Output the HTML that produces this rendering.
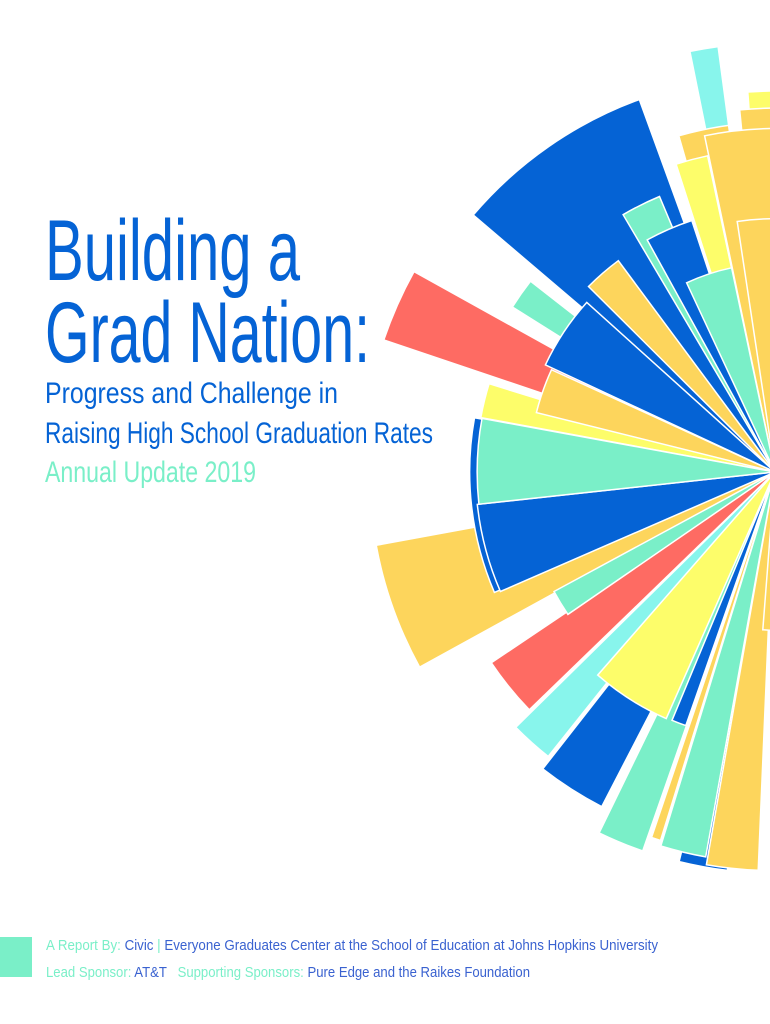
<!DOCTYPE html>
<html><head><meta charset="utf-8"><style>
html,body{margin:0;padding:0;background:#fff;}
svg{display:block;}
text{font-family:"Liberation Sans Narrow","Liberation Sans",sans-serif;}
</style></head><body>
<svg id="s" width="770" height="1024" viewBox="0 0 770 1024" xmlns="http://www.w3.org/2000/svg">
<g id="burst"></g>
<text x="45" y="280" font-size="86" fill="#0563d5" textLength="255" lengthAdjust="spacingAndGlyphs">Building a</text>
<text x="45" y="362" font-size="86" fill="#0563d5" textLength="325" lengthAdjust="spacingAndGlyphs">Grad Nation:</text>
<text x="45" y="403" font-size="30" fill="#0563d5" textLength="293" lengthAdjust="spacingAndGlyphs">Progress and Challenge in</text>
<text x="45" y="443" font-size="30" fill="#0563d5" textLength="388" lengthAdjust="spacingAndGlyphs">Raising High School Graduation Rates</text>
<text x="45" y="482" font-size="30" fill="#7aefc8" textLength="211" lengthAdjust="spacingAndGlyphs">Annual Update 2019</text>
<rect x="0" y="937" width="32" height="40" fill="#7aefc8"/>
<text x="46" y="950" font-size="15" textLength="612" lengthAdjust="spacingAndGlyphs"><tspan fill="#7aefc8">A Report By: </tspan><tspan fill="#3a62d0">Civic </tspan><tspan fill="#7aefc8">| </tspan><tspan fill="#3a62d0">Everyone Graduates Center at the School of Education at Johns Hopkins University</tspan></text>
<text x="46" y="977" font-size="15" textLength="484" lengthAdjust="spacingAndGlyphs" xml:space="preserve"><tspan fill="#7aefc8">Lead Sponsor: </tspan><tspan fill="#3a62d0">AT&amp;T   </tspan><tspan fill="#7aefc8">Supporting Sponsors: </tspan><tspan fill="#3a62d0">Pure Edge and the Raikes Foundation</tspan></text>
</svg>
<script>
var B="#0563d5",G="#fdd55c",Y="#fdfd6a",M="#7aefc8",C="#88f5ec",R="#fe6b63";
var cx=775,cy=472;
var W=[
[C,690,52,718,46],
[Y,748,95,775,88],
[G,740,113,775,105],
[G,680,140,728,121],
[G,708,152,775,112],
[Y,677,167,707,153],
[B,485,225,634,85],
[M,625,218,658,193],
[B,650,245,690,215],
[M,690,290,730,260],
[G,617,259,590,288],
[G,740,240,775,200],
[R,411,270,387,341],
[M,529,280,514,308],
[B,583,299,550,367],
[G,550,369,538,413],
[Y,487,383,483,418],
[B,476,418,493,593],
[M,480,418,481,504],
[G,378,545,418,668],
[B,481,504,497,593],
[M,555,591,567,615],
[R,494,661,527,712],
[C,517,726,547,758],
[Y,603,669,663,726],
[B,545,766,600,810],
[B,673,718,685,728],
[M,600,831,642,853],
[G,652,836,660,842],
[M,662,842,705,861],
[B,680,858,727,874],
[G,707,861,758,874],
[G,762,640,775,620]
];
W.forEach(function(w){w.r=(Math.hypot(w[1]-cx,w[2]-cy)+Math.hypot(w[3]-cx,w[4]-cy))/2;});
W.sort(function(a,b){return b.r-a.r;});
var g=document.getElementById("burst"),h="";
W.forEach(function(w){
 var a1=Math.atan2(w[2]-cy,w[1]-cx),a2=Math.atan2(w[4]-cy,w[3]-cx),r=w.r;
 var d=a2-a1;while(d>Math.PI)d-=2*Math.PI;while(d<-Math.PI)d+=2*Math.PI;
 var sw=d>0?1:0;
 var x1=cx+r*Math.cos(a1),y1=cy+r*Math.sin(a1),x2=cx+r*Math.cos(a2),y2=cy+r*Math.sin(a2);
 h+='<path fill="'+w[0]+'" stroke="#fff" stroke-width="1.5" stroke-linejoin="miter" d="M'+cx+' '+cy+'L'+x1.toFixed(1)+' '+y1.toFixed(1)+'A'+r.toFixed(1)+' '+r.toFixed(1)+' 0 0 '+sw+' '+x2.toFixed(1)+' '+y2.toFixed(1)+'Z"/>';
});
g.innerHTML=h;
</script>
</body></html>
